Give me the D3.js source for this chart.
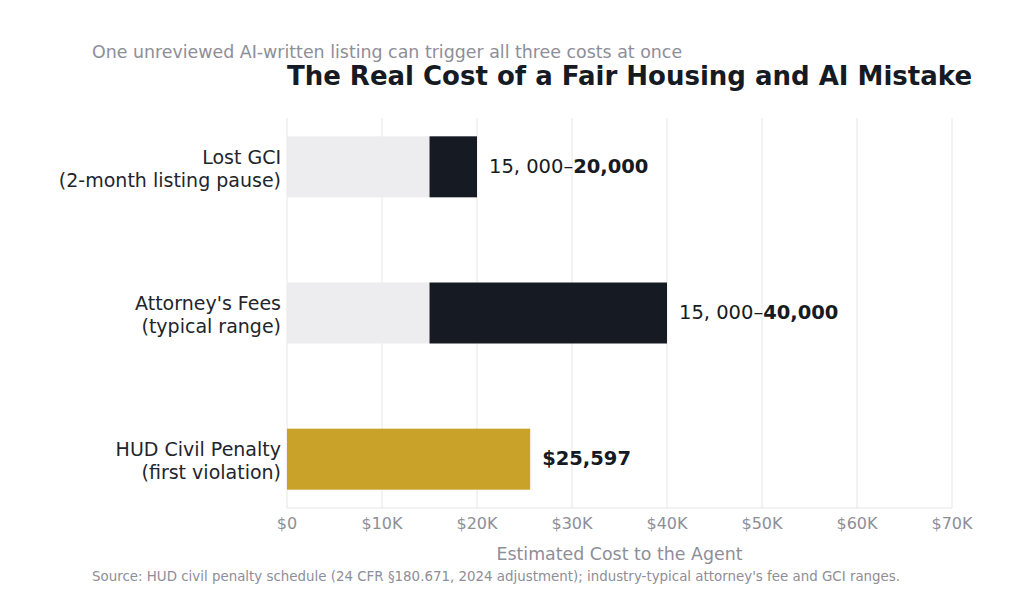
<!DOCTYPE html>
<html>
<head>
<meta charset="utf-8">
<script src="https://cdn.jsdelivr.net/npm/d3@7"></script>
<style>
  body { margin: 0; background: #fff; }
  text { font-family: "DejaVu Sans", sans-serif; }
</style>
</head>
<body>
<script>
// Chart data
const categories = ["Lost GCI|(2-month listing pause)", "Attorney's Fees|(typical range)", "HUD Civil Penalty|(first violation)"];
const lowValues = [15000, 15000, null];
const highValues = [20000, 40000, 25597];
const lowLabels = ["15, 000–", "15, 000–", ""];
const highLabels = ["20,000", "40,000", "$25,597"];
const xTicks = [0, 10000, 20000, 30000, 40000, 50000, 60000, 70000];
const xTickLabels = ["$0", "$10K", "$20K", "$30K", "$40K", "$50K", "$60K", "$70K"];

const W = 1024, H = 592;
const margin = { left: 287, right: 72, top: 118, bottom: 84 };
const colors = { dark: "#161a22", light: "#ededef", gold: "#c9a22a", grid: "#e6e6e8", muted: "#8e8e98" };

const svg = d3.select("body").append("svg")
    .attr("width", W)
    .attr("height", H);

const x = d3.scaleLinear()
    .domain([0, 70000])
    .range([margin.left, W - margin.right]);

const y = d3.scalePoint()
    .domain(categories)
    .range([margin.top, H - margin.bottom])
    .padding(0.334);

const barH = 61;

// gridlines
svg.append("g").selectAll("line")
    .data(xTicks)
    .join("line")
    .attr("x1", d => x(d)).attr("x2", d => x(d))
    .attr("y1", margin.top).attr("y2", H - margin.bottom)
    .attr("stroke", colors.grid)
    .attr("stroke-width", 1);

// bottom spine
svg.append("line")
    .attr("x1", x(0)).attr("x2", x(70000))
    .attr("y1", H - margin.bottom).attr("y2", H - margin.bottom)
    .attr("stroke", colors.grid);

// bars
categories.forEach((c, i) => {
    const cy = y(c);
    if (lowValues[i] != null) {
        svg.append("rect")
            .attr("x", x(0)).attr("y", cy - barH / 2)
            .attr("width", x(lowValues[i]) - x(0)).attr("height", barH)
            .attr("fill", colors.light);
        svg.append("rect")
            .attr("x", x(lowValues[i])).attr("y", cy - barH / 2)
            .attr("width", x(highValues[i]) - x(lowValues[i])).attr("height", barH)
            .attr("fill", colors.dark);
    } else {
        svg.append("rect")
            .attr("x", x(0)).attr("y", cy - barH / 2)
            .attr("width", x(highValues[i]) - x(0)).attr("height", barH)
            .attr("fill", colors.gold);
    }

    // value label
    const t = svg.append("text")
        .attr("x", x(highValues[i]) + 12)
        .attr("y", cy - 1)
        .attr("dominant-baseline", "central")
        .attr("font-size", 19.5)
        .attr("fill", colors.dark);
    if (lowLabels[i]) t.append("tspan").text(lowLabels[i]);
    t.append("tspan").attr("font-weight", "bold").text(highLabels[i]);

    // category label
    const lines = c.split("|");
    const ct = svg.append("text")
        .attr("x", x(0) - 6)
        .attr("text-anchor", "end")
        .attr("font-size", 19)
        .attr("fill", "#22252c");
    lines.forEach((ln, j) => {
        ct.append("tspan")
            .attr("x", x(0) - 6)
            .attr("y", cy + 1.5 + (j - 0.5) * 23.5)
            .attr("dominant-baseline", "central")
            .text(ln);
    });
});

// x tick labels
svg.append("g").selectAll("text")
    .data(xTicks)
    .join("text")
    .attr("x", d => x(d))
    .attr("y", H - margin.bottom + 15)
    .attr("text-anchor", "middle")
    .attr("dominant-baseline", "central")
    .attr("font-size", 16)
    .attr("fill", colors.muted)
    .text((d, i) => xTickLabels[i]);

// axis title
svg.append("text")
    .attr("x", (x(0) + x(70000)) / 2)
    .attr("y", 554)
    .attr("text-anchor", "middle")
    .attr("dominant-baseline", "central")
    .attr("font-size", 17.4)
    .attr("fill", colors.muted)
    .text("Estimated Cost to the Agent");

// subtitle
svg.append("text")
    .attr("x", 92).attr("y", 52)
    .attr("dominant-baseline", "central")
    .attr("font-size", 17.4)
    .attr("fill", colors.muted)
    .text("One unreviewed AI-written listing can trigger all three costs at once");

// title
svg.append("text")
    .attr("x", 629.5).attr("y", 76)
    .attr("text-anchor", "middle")
    .attr("dominant-baseline", "central")
    .attr("font-size", 26)
    .attr("font-weight", "bold")
    .attr("fill", "#161a22")
    .text("The Real Cost of a Fair Housing and AI Mistake");

// source
svg.append("text")
    .attr("x", 92).attr("y", 576)
    .attr("dominant-baseline", "central")
    .attr("font-size", 13.4)
    .attr("fill", colors.muted)
    .text("Source: HUD civil penalty schedule (24 CFR §180.671, 2024 adjustment); industry-typical attorney's fee and GCI ranges.");
</script>
</body>
</html>
